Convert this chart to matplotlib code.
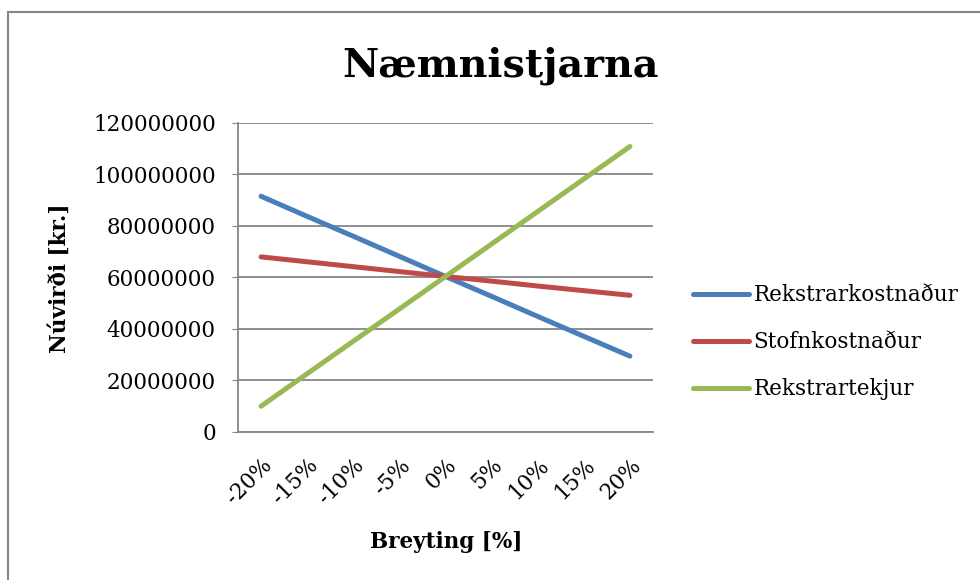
import numpy as np
import matplotlib
matplotlib.use('Agg')
import matplotlib.pyplot as plt
from matplotlib.lines import Line2D

# data
categories = ['-20%', '-15%', '-10%', '-5%', '0%', '5%', '10%', '15%', '20%']
rekstrarkostnadur = [91.4, 83.6, 75.9, 68.1, 60.3, 52.6, 44.8, 37.1, 29.4]
stofnkostnadur = [67.9, 66.0, 64.1, 62.2, 60.3, 58.5, 56.6, 54.8, 53.0]
rekstrartekjur = [10.0, 22.6, 35.2, 47.7, 60.3, 72.9, 85.5, 98.1, 110.7]
series_names = ['Rekstrarkostnaður', 'Stofnkostnaður', 'Rekstrartekjur']
yticks = [0, 20000000, 40000000, 60000000, 80000000, 100000000, 120000000]

colors = ['#4A7EBB', '#BE4B48', '#98B954']
grey = '#868686'

plt.rcParams['font.family'] = ['DejaVu Serif']

fig = plt.figure(figsize=(9.8, 5.8), dpi=100)
ax = fig.add_axes([238/980, 1 - 432/580, (653-238)/980, (432-122.5)/580])

x = np.arange(len(categories))
for vals, name, c in zip([rekstrarkostnadur, stofnkostnadur, rekstrartekjur], series_names, colors):
    ax.plot(x, np.array(vals) * 1e6, color=c, lw=3.6, solid_capstyle='round', label=name)

ax.set_xlim(-0.5, len(categories) - 0.5)
ax.set_ylim(0, 120000000)
ax.set_yticks(yticks)
ax.set_yticklabels([str(v) for v in yticks], fontsize=15.5)
ax.set_xticks(x)
ax.set_xticklabels(categories, fontsize=15.5, rotation=45, ha='right', va='top',
                   rotation_mode='anchor')
ax.tick_params(axis='x', length=0, pad=16)
ax.tick_params(axis='y', length=4, color=grey, pad=12)
ax.grid(axis='y', color=grey, lw=1.3)
ax.set_axisbelow(True)
for s in ['top', 'right']:
    ax.spines[s].set_visible(False)
for s in ['left', 'bottom']:
    ax.spines[s].set_color(grey)
    ax.spines[s].set_linewidth(1.3)

fig.text(0.511, 1 - 66/580, 'Næmnistjarna', fontsize=28.5, fontweight='bold',
         ha='center', va='center')
fig.text(60/980, 1 - 278/580, 'Núvirði [kr.]', fontsize=15.5, fontweight='bold',
         rotation=90, ha='center', va='center')
fig.text(446/980, 1 - 542/580, 'Breyting [%]', fontsize=15.5, fontweight='bold',
         ha='center', va='center')

leg = fig.legend(loc='upper left', bbox_to_anchor=(674/980, 1 - 265/580), frameon=False,
                 fontsize=15.5, handlelength=2.6, handletextpad=0.2, labelspacing=1.16)

# chart border
fig.add_artist(Line2D([8/980, 1], [1 - 12/580, 1 - 12/580], color=grey, lw=1.5))
fig.add_artist(Line2D([8/980, 8/980], [0, 1 - 12/580], color=grey, lw=1.5))

fig.savefig('out.png', dpi=100)
